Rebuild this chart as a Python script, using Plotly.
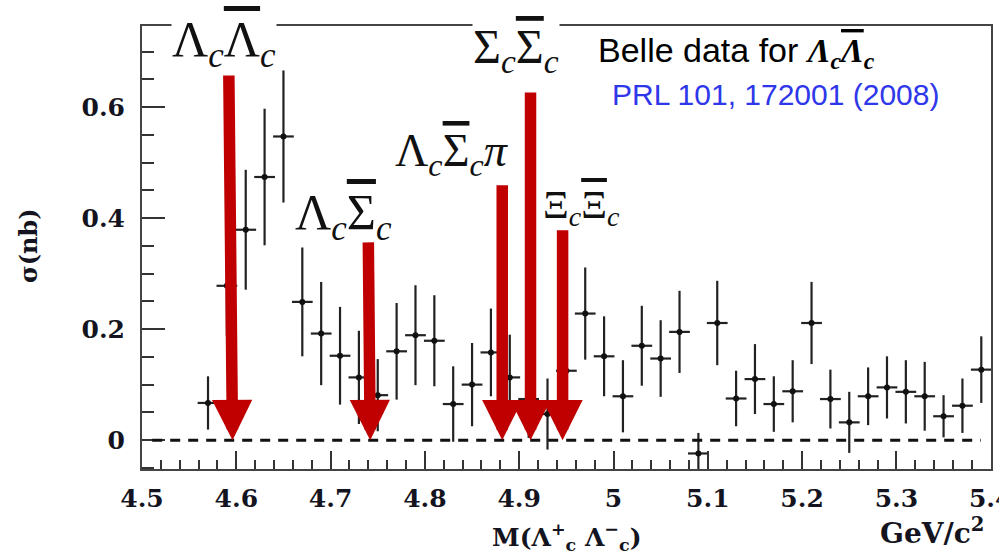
import plotly.graph_objects as go

# ---- data ----
mass = [4.57, 4.59, 4.61, 4.63, 4.65, 4.67, 4.69, 4.71, 4.73, 4.75,
        4.77, 4.79, 4.81, 4.83, 4.85, 4.87, 4.89, 4.91, 4.93, 4.95,
        4.97, 4.99, 5.01, 5.03, 5.05, 5.07, 5.09, 5.11, 5.13, 5.15,
        5.17, 5.19, 5.21, 5.23, 5.25, 5.27, 5.29, 5.31, 5.33, 5.35,
        5.37, 5.39]
sigma = [0.067, 0.278, 0.379, 0.474, 0.547, 0.249, 0.192, 0.152, 0.113, 0.081,
         0.160, 0.189, 0.179, 0.065, 0.100, 0.158, 0.113, 0.074, 0.047, 0.125,
         0.228, 0.151, 0.079, 0.170, 0.147, 0.195, -0.024, 0.211, 0.075, 0.110,
         0.065, 0.088, 0.211, 0.074, 0.032, 0.079, 0.095, 0.087, 0.079, 0.043,
         0.062, 0.127]
sigma_err = [0.048, 0.090, 0.108, 0.123, 0.119, 0.098, 0.093, 0.088, 0.084, 0.065,
             0.087, 0.090, 0.082, 0.068, 0.075, 0.079, 0.077, 0.070, 0.064, 0.090,
             0.083, 0.072, 0.065, 0.072, 0.069, 0.074, 0.037, 0.076, 0.050, 0.063,
             0.050, 0.056, 0.074, 0.053, 0.055, 0.052, 0.056, 0.057, 0.062, 0.038,
             0.049, 0.060]
bin_half = [0.011] * len(mass)

# thresholds (arrows): labels, tip mass, tail mass, tail height
thr_labels = ["ΛcΛ̄c", "ΛcΣ̄c", "ΛcΣ̄cπ", "ΣcΣ̄c", "ΞcΞ̄c"]
thr_mass = [4.596, 4.742, 4.882, 4.912, 4.946]
thr_tail_mass = [4.592, 4.740, 4.882, 4.912, 4.946]
thr_top = [0.671, 0.359, 0.462, 0.629, 0.381]

x_ticks = [4.5, 4.6, 4.7, 4.8, 4.9, 5.0, 5.1, 5.2, 5.3, 5.4]
x_ticktext = ["4.5", "4.6", "4.7", "4.8", "4.9", "5", "5.1", "5.2", "5.3", "5.4"]
y_ticks = [0, 0.2, 0.4, 0.6]
y_ticktext = ["0", "0.2", "0.4", "0.6"]

RED = "#c00000"
INK = "#141420"
TICKFONT = dict(family="DejaVu Serif", size=25, color=INK, weight="bold")

fig = go.Figure()
fig.add_trace(go.Scatter(
    x=mass, y=sigma, mode="markers",
    marker=dict(symbol="circle", size=6, color="#111111"),
    error_y=dict(type="data", array=sigma_err, visible=True,
                 thickness=2.2, width=0, color="#222222"),
    error_x=dict(type="data", array=bin_half, visible=True,
                 thickness=2.2, width=0, color="#222222"),
    showlegend=False, hoverinfo="skip",
))

fig.add_shape(type="line", xref="paper", yref="y", x0=0.012, x1=0.988,
              y0=0, y1=0, line=dict(color="#111111", width=3, dash="10px,8px"))

annotations = []
# arrows
for tip, tail, top in zip(thr_mass, thr_tail_mass, thr_top):
    annotations.append(dict(
        x=tip, y=0, ax=tail, ay=top, xref="x", yref="y", axref="x", ayref="y",
        text="", showarrow=True, arrowhead=2, arrowsize=0.7, arrowwidth=11.5,
        arrowcolor=RED, standoff=0,
    ))

SERIF = "Liberation Serif"
OV = '<span style="text-decoration:overline">'
label_html = {
    "ΛcΛ̄c": f"Λ<sub><i>c</i></sub>{OV}Λ</span><sub><i>c</i></sub>",
    "ΛcΣ̄c": f"Λ<sub><i>c</i></sub>{OV}Σ</span><sub><i>c</i></sub>",
    "ΛcΣ̄cπ": f"Λ<sub><i>c</i></sub>{OV}Σ</span><sub><i>c</i></sub><i>π</i>",
    "ΣcΣ̄c": f"Σ<sub><i>c</i></sub>{OV}Σ</span><sub><i>c</i></sub>",
    "ΞcΞ̄c": f"Ξ<sub><i>c</i></sub>{OV}Ξ</span><sub><i>c</i></sub>",
}
label_pos = {
    "ΛcΛ̄c": (0.097, 0.962, 50),
    "ΛcΣ̄c": (0.237, 0.570, 50),
    "ΛcΣ̄cπ": (0.365, 0.710, 46),
    "ΣcΣ̄c": (0.441, 0.946, 48),
    "ΞcΞ̄c": (0.518, 0.592, 40),
}
for name in thr_labels:
    px, py, fs = label_pos[name]
    bg = "white" if name in ("ΛcΛ̄c", "ΣcΣ̄c") else "rgba(0,0,0,0)"
    annotations.append(dict(
        x=px, y=py, xref="paper", yref="paper", text=label_html[name],
        showarrow=False, xanchor="center", yanchor="middle",
        font=dict(family=SERIF, size=fs, color="#111111"),
        bgcolor=bg, borderpad=0,
    ))

# Belle text
annotations.append(dict(
    x=0.535, y=0.941, xref="paper", yref="paper", xanchor="left", yanchor="middle",
    text=("Belle data for <span style=\"font-family:'Liberation Serif'\"><b><i>Λ<sub>c</sub>"
          + OV + "Λ</span><sub>c</sub></i></b></span>"),
    showarrow=False, font=dict(family="Liberation Sans", size=34, color="#000000"),
))
annotations.append(dict(
    x=0.551, y=0.845, xref="paper", yref="paper", xanchor="left", yanchor="middle",
    text="PRL 101, 172001 (2008)",
    showarrow=False, font=dict(family="Liberation Sans", size=30, color="#2f37ea"),
))

# axis titles
TITLEFONT = dict(family="DejaVu Serif", size=25, color=INK, weight="bold")
annotations.append(dict(
    x=-0.134, y=0.504, xref="paper", yref="paper", text="σ(nb)", textangle=-90,
    showarrow=False, xanchor="center", yanchor="middle", font=dict(TITLEFONT, size=24),
))
annotations.append(dict(
    x=0.5006, y=-0.153, xref="paper", yref="paper",
    text="M(Λ<sup>+</sup><sub>c</sub> Λ<sup>−</sup><sub>c</sub>)",
    showarrow=False, xanchor="center", yanchor="middle", font=TITLEFONT,
))
annotations.append(dict(
    x=0.930, y=-0.142, xref="paper", yref="paper", text="GeV/c<sup>2</sup>",
    showarrow=False, xanchor="center", yanchor="middle", font=dict(TITLEFONT, size=28),
))

fig.update_layout(
    width=999, height=554,
    margin=dict(l=142, r=8, t=26, b=85, autoexpand=False),
    paper_bgcolor="white", plot_bgcolor="white",
    annotations=annotations,
    xaxis=dict(
        range=[4.5, 5.4003], tickvals=x_ticks, ticktext=x_ticktext,
        ticks="inside", ticklen=18, tickwidth=2, tickcolor="#333333",
        minor=dict(dtick=0.02, tick0=4.5, ticks="inside", ticklen=9,
                   tickwidth=2, tickcolor="#333333", showgrid=False),
        showline=True, linecolor="#444444", linewidth=2, mirror=True,
        showgrid=False, zeroline=False, tickfont=TICKFONT, ticklabelstandoff=6,
        ticklabeloverflow="allow", automargin=False,
    ),
    yaxis=dict(
        range=[-0.052, 0.746], tickvals=y_ticks, ticktext=y_ticktext,
        ticks="inside", ticklen=23, tickwidth=2, tickcolor="#333333",
        minor=dict(dtick=0.05, tick0=0, ticks="inside", ticklen=12,
                   tickwidth=2, tickcolor="#333333", showgrid=False),
        showline=True, linecolor="#444444", linewidth=2, mirror=True,
        showgrid=False, zeroline=False, tickfont=TICKFONT, ticklabelstandoff=10,
        automargin=False,
    ),
)

fig.write_html("out.html")
